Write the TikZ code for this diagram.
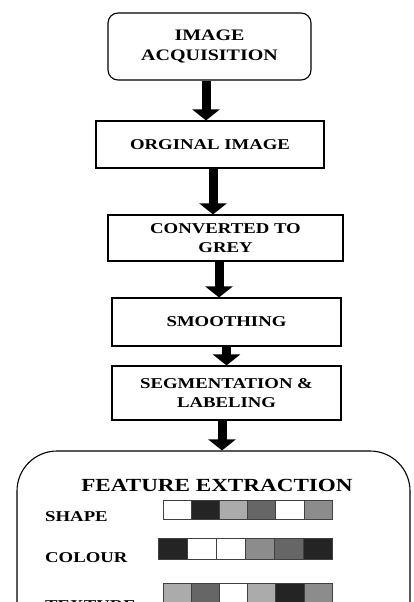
\documentclass[tikz,border=0pt]{standalone}
\usepackage{fontspec}
\setmainfont{Liberation Serif}[FakeStretch=1.25]
\usetikzlibrary{arrows.meta}
\definecolor{cdark}{gray}{0.14}
\definecolor{cdgrey}{gray}{0.40}
\definecolor{cmgrey}{gray}{0.55}
\definecolor{clgrey}{gray}{0.67}
\begin{document}
\begin{tikzpicture}[x=1pt,y=-1pt,
    stage/.style={draw, line width=1.1pt, align=center, inner sep=0pt,
      font=\fontsize{15}{19}\selectfont\bfseries},
    flow/.style={line width=9pt, -{Triangle[width=27pt,length=11pt]}},
    cell/.style={draw=black!75, line width=0.7pt},
    lbl/.style={anchor=west, inner sep=0pt, font=\fontsize{15}{19}\selectfont\bfseries}]
  \useasboundingbox (0,0) rectangle (413,602);
  \clip (0,0) rectangle (413,602);
  \draw
    (209.5,46.5) node[stage, rounded corners=10pt, minimum width=203pt, minimum height=67pt,
      font=\fontsize{16}{20}\selectfont\bfseries] (acq){IMAGE\\ACQUISITION}
    (210,144.5) node[stage, minimum width=228pt, minimum height=47pt] (orig){ORGINAL IMAGE}
    (225.5,238) node[stage, minimum width=235pt, minimum height=46pt] (grey){CONVERTED TO\\GREY}
    (226.5,322) node[stage, minimum width=229pt, minimum height=48pt] (smooth){SMOOTHING}
    (226.5,393) node[stage, minimum width=229pt, minimum height=54pt] (segm){SEGMENTATION \&\\LABELING}
    (213.5,575) node[stage, rounded corners=40pt, minimum width=393pt, minimum height=248pt] (feat){}
    (217,485) node[font=\fontsize{18.5}{22}\selectfont\bfseries, inner sep=0pt] (title){FEATURE EXTRACTION}
    (45,517) node[lbl] (shapelbl){SHAPE}
    (45,558) node[lbl] (colourlbl){COLOUR}
    (45,606) node[lbl] (texturelbl){TEXTURE};
  \begin{scope}[flow]
    \draw ([xshift=-3.5pt]acq.south) -- ([xshift=-3.5pt]acq.south |- orig.north);
    \draw ([xshift=3pt]orig.south) -- ([xshift=3pt]orig.south |- grey.north);
    \draw ([xshift=-6.5pt]grey.south) -- ([xshift=-6.5pt]grey.south |- smooth.north);
    \draw (smooth.south) -- (smooth.south |- segm.north);
    \draw ([xshift=-4.5pt]segm.south) -- ([xshift=-4.5pt]segm.south |- feat.north);
  \end{scope}
  \foreach \c [count=\i from 0] in {white,cdark,clgrey,cdgrey,white,cmgrey}
    \draw[cell, fill=\c] (163+\i*28.17,500) rectangle ++(28.17,19);
  \foreach \c [count=\i from 0] in {cdark,white,white,cmgrey,cdgrey,cdark}
    \draw[cell, fill=\c] (158+\i*29,538) rectangle ++(29,21);
  \foreach \c [count=\i from 0] in {clgrey,cdgrey,white,clgrey,cdark,cmgrey}
    \draw[cell, fill=\c] (163+\i*28.17,583) rectangle ++(28.17,22);
\end{tikzpicture}
\end{document}
